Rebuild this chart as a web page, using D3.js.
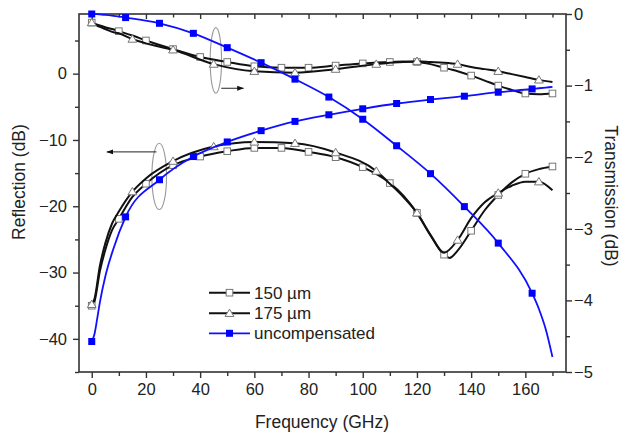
<!DOCTYPE html>
<html><head><meta charset="utf-8">
<script src="https://cdn.jsdelivr.net/npm/d3@7"></script>
<style>
html,body{margin:0;padding:0;background:#fff;}
svg text{font-family:"Liberation Sans",Arial,sans-serif;fill:#222;}
</style></head>
<body><svg id="c" width="620" height="435"></svg>
<script>
// ---- data (GHz, dB) ----
const seriesNames = ["150 \u00b5m", "175 \u00b5m", "uncompensated"];

const freq150  = [0,1,3,5,7.5,10,15,20,30,40,50,60,70,80,90,100,110,115,120,125,130,132,135,140,145,150,155,160,165,170];
const refl150  = [-35.0,-34.4,-29.8,-26.6,-23.6,-21.9,-18.6,-16.6,-13.8,-12.5,-11.7,-11.2,-11.2,-11.8,-12.6,-14.1,-16.5,-18.4,-21.0,-24.4,-27.3,-27.8,-26.7,-23.7,-20.6,-18.3,-16.4,-15.1,-14.4,-14.0];
const trans150 = [-0.12,-0.135,-0.16,-0.185,-0.21,-0.24,-0.30,-0.37,-0.49,-0.60,-0.67,-0.73,-0.75,-0.75,-0.72,-0.69,-0.67,-0.665,-0.67,-0.70,-0.75,-0.77,-0.80,-0.86,-0.93,-1.00,-1.06,-1.11,-1.12,-1.11];
const marks150 = [0,10,20,30,40,50,60,70,80,90,100,110,120,130,140,150,160,170];

const freq175  = [0,1,3,5,7.5,10,15,20,30,45,60,75,90,105,110,115,120,125,130,135,140,145,150,155,160,165,170];
const refl175  = [-34.8,-34.0,-29.0,-25.6,-22.6,-20.8,-17.8,-15.8,-13.2,-11.0,-10.3,-10.5,-11.9,-14.7,-16.6,-18.6,-21.0,-24.3,-27.0,-25.1,-21.8,-19.4,-18.0,-16.9,-16.3,-16.3,-17.6];
const trans175 = [-0.12,-0.14,-0.18,-0.21,-0.25,-0.27,-0.35,-0.41,-0.50,-0.70,-0.80,-0.82,-0.77,-0.70,-0.68,-0.67,-0.66,-0.67,-0.68,-0.70,-0.74,-0.77,-0.80,-0.84,-0.88,-0.92,-0.95];
const marks175 = [0,15,30,45,60,75,90,105,120,135,150,165];

const freqU  = [0,1,2,3,5,8,12.5,25,37.5,50,62.5,75,87.5,100,112.5,125,137.5,150,162.5,165,167.5,170];
const reflU  = [-40.4,-39.3,-37.0,-34.5,-30.6,-26.4,-21.6,-16.0,-12.5,-10.3,-8.6,-7.2,-6.2,-5.3,-4.5,-3.9,-3.4,-2.8,-2.3,-2.2,-2.1,-2.0];
const transU = [0,-0.001,-0.003,-0.006,-0.012,-0.025,-0.05,-0.13,-0.27,-0.47,-0.68,-0.91,-1.16,-1.47,-1.84,-2.23,-2.69,-3.20,-3.90,-4.12,-4.40,-4.79];
const marksU = [0,12.5,25,37.5,50,62.5,75,87.5,100,112.5,125,137.5,150,162.5];

const xTicks = [0,20,40,60,80,100,120,140,160];
const xMinor = [10,30,50,70,90,110,130,150,170];
const yLTicks = [-40,-30,-20,-10,0];
const yLMinor = [-45,-35,-25,-15,-5,5];
const yRTicks = [-5,-4,-3,-2,-1,0];
const yRMinor = [-4.5,-3.5,-2.5,-1.5,-0.5];

// ---- layout ----
const L=79, R=566, T=14, B=372;
const svg = d3.select("#c");
const x  = d3.scaleLinear().domain([-4.7,175]).range([L,R]);
const yL = d3.scaleLinear().domain([-45,9]).range([B,T]);
const yR = d3.scaleLinear().domain([-5,0]).range([B,T]);

const axisColor="#333";
function styleAxis(g){
  g.selectAll(".domain").remove();
  g.selectAll(".tick line").attr("stroke",axisColor).attr("stroke-width",1.4);
  g.selectAll("text").style("font-size","16.5px").attr("fill","#222");
}
// bottom
svg.append("g").attr("transform",`translate(0,${B})`)
  .call(d3.axisBottom(x).tickValues(xTicks).tickSize(6).tickPadding(5).tickFormat(d3.format("d"))).call(styleAxis);
svg.append("g").attr("transform",`translate(0,${B})`)
  .call(d3.axisBottom(x).tickValues(xMinor).tickSize(4).tickFormat("")).call(styleAxis);
// top (inward)
svg.append("g").attr("transform",`translate(0,${T})`)
  .call(d3.axisBottom(x).tickValues(xTicks).tickSize(5).tickFormat("")).call(styleAxis);
svg.append("g").attr("transform",`translate(0,${T})`)
  .call(d3.axisBottom(x).tickValues(xMinor).tickSize(3.5).tickFormat("")).call(styleAxis);
// left
svg.append("g").attr("transform",`translate(${L},0)`)
  .call(d3.axisLeft(yL).tickValues(yLTicks).tickSize(6).tickPadding(6).tickFormat(d3.format("d"))).call(styleAxis);
svg.append("g").attr("transform",`translate(${L},0)`)
  .call(d3.axisLeft(yL).tickValues(yLMinor).tickSize(4).tickFormat("")).call(styleAxis);
// right
svg.append("g").attr("transform",`translate(${R},0)`)
  .call(d3.axisRight(yR).tickValues(yRTicks).tickSize(6).tickPadding(2).tickFormat(d3.format("d"))).call(styleAxis);
svg.append("g").attr("transform",`translate(${R},0)`)
  .call(d3.axisRight(yR).tickValues(yRMinor).tickSize(4).tickFormat("")).call(styleAxis);

// frame
svg.append("rect").attr("x",L).attr("y",T).attr("width",R-L).attr("height",B-T)
  .attr("fill","none").attr("stroke",axisColor).attr("stroke-width",1.6);

// titles
svg.append("text").attr("transform",`translate(25,182) rotate(-90)`).attr("text-anchor","middle")
  .style("font-size","17.5px").text("Reflection (dB)");
svg.append("text").attr("transform",`translate(605,196) rotate(90)`).attr("text-anchor","middle")
  .style("font-size","17.5px").text("Transmission (dB)");
svg.append("text").attr("x",322).attr("y",428).attr("text-anchor","middle")
  .style("font-size","17.5px").text("Frequency (GHz)");

// annotations (ellipses + arrows)
const defs = svg.append("defs");
defs.append("marker").attr("id","ah").attr("viewBox","0 0 10 10").attr("refX",9).attr("refY",5)
  .attr("markerWidth",7).attr("markerHeight",7).attr("orient","auto-start-reverse")
  .append("path").attr("d","M0,1.5L10,5L0,8.5Z").attr("fill","#111");
function loopArrow(cf, cv, rf, rv, f0, f1, av){
  svg.append("ellipse").attr("cx",x(cf)).attr("cy",yL(cv))
    .attr("rx",x(rf)-x(0)).attr("ry",yL(0)-yL(rv))
    .attr("fill","none").attr("stroke","#999").attr("stroke-width",1.1);
  svg.append("line").attr("x1",x(f0)).attr("y1",yL(av)).attr("x2",x(f1)).attr("y2",yL(av))
    .attr("stroke","#222").attr("stroke-width",1).attr("marker-end","url(#ah)");
}
loopArrow(45.8, 2.0, 2.1, 4.95, 47.8, 56.0, -2.2);
loopArrow(24.9,-15.5, 2.7, 5.0, 23.9, 5.6, -11.8);

// curves
const lineGen = (ys) => d3.line().x(d=>x(d[0])).y(d=>ys(d[1])).curve(d3.curveMonotoneX);
const zip = (f,v) => f.map((d,i)=>[d,v[i]]);
const plot = svg.append("g");

function drawSeries(freq, vals, ys, marks, color, shape, lw){
  const pts = zip(freq, vals);
  plot.append("path").datum(pts).attr("d", lineGen(ys)).attr("fill","none")
    .attr("stroke",color).attr("stroke-width",lw);
  const mp = pts.filter(p => marks.includes(p[0]));
  drawMarkers(plot, mp.map(p=>[x(p[0]), ys(p[1])]), shape);
}
function drawMarkers(g, xy, shape){
  xy.forEach(([px,py])=>{
    if(shape==="square"){
      g.append("rect").attr("x",px-3.3).attr("y",py-3.3).attr("width",6.6).attr("height",6.6)
        .attr("fill","#fff").attr("stroke","#777").attr("stroke-width",1);
    } else if(shape==="triangle"){
      const s=4.2;
      g.append("path").attr("d",`M${px},${py-s}L${px+s*1.05},${py+s*0.75}L${px-s*1.05},${py+s*0.75}Z`)
        .attr("fill","#fff").attr("stroke","#777").attr("stroke-width",1);
    } else {
      g.append("rect").attr("x",px-3.5).attr("y",py-3.5).attr("width",7).attr("height",7)
        .attr("fill","#0000ff").attr("stroke","none");
    }
  });
}

const blk="#111", blue="#1010ff";
drawSeries(freq150, refl150,  yL, marks150, blk, "square", 2);
drawSeries(freq150, trans150, yR, marks150, blk, "square", 2);
drawSeries(freq175, refl175,  yL, marks175, blk, "triangle", 2);
drawSeries(freq175, trans175, yR, marks175, blk, "triangle", 2);
drawSeries(freqU, reflU,  yL, marksU, blue, "filled", 1.8);
drawSeries(freqU, transU, yR, marksU, blue, "filled", 1.8);

// legend
const legY = [292.7, 313.3, 333.3];
const legShapes = ["square","triangle","filled"];
const legColors = [blk, blk, blue];
seriesNames.forEach((name,i)=>{
  svg.append("line").attr("x1",209).attr("x2",250).attr("y1",legY[i]).attr("y2",legY[i])
    .attr("stroke",legColors[i]).attr("stroke-width",i<2?2:1.8);
  drawMarkers(svg, [[229.5, legY[i]]], legShapes[i]);
  svg.append("text").attr("x",254).attr("y",legY[i]).attr("dy","0.35em")
    .style("font-size","17px").text(name);
});
</script></body></html>
